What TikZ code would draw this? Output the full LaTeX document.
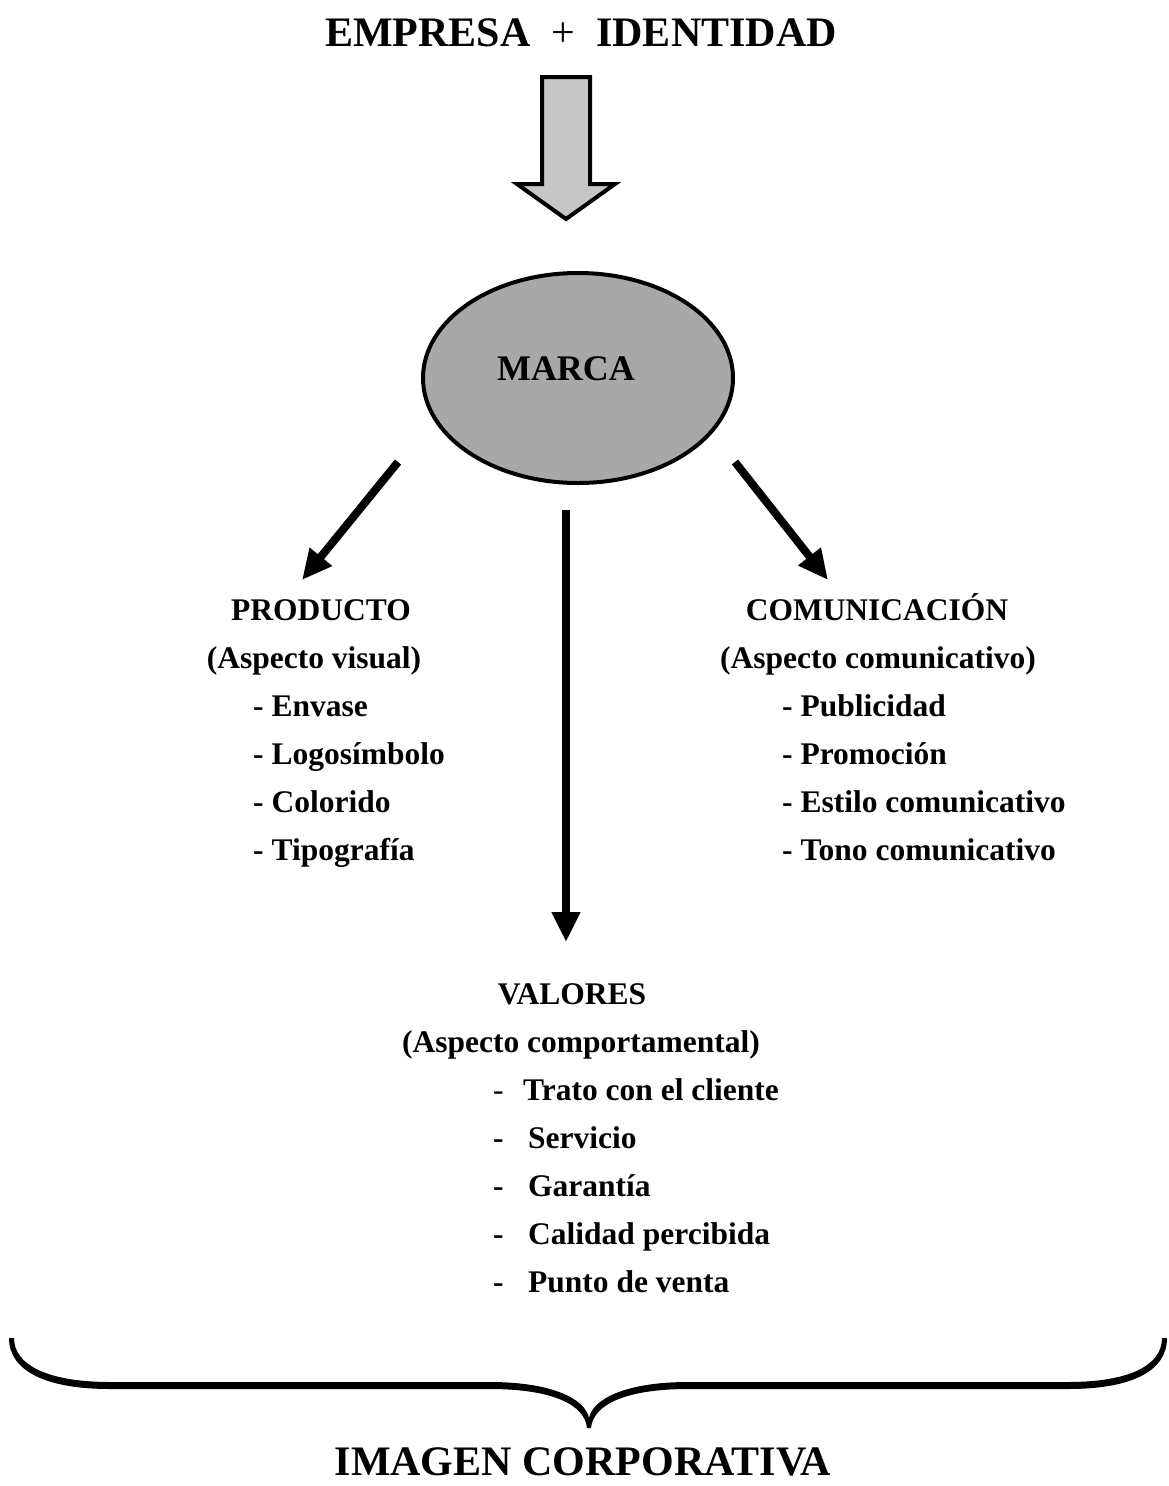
\documentclass[tikz,border=0pt]{standalone}
\usepackage{fontspec}
\setmainfont{Liberation Serif}
\usetikzlibrary{arrows.meta,shapes.geometric}

\begin{document}
\begin{tikzpicture}[x=1pt,y=-1pt,
  lbl/.style={inner sep=0pt, anchor=base, font=\fontsize{31.5}{38}\selectfont\bfseries},
  item/.style={lbl, anchor=base west},
  big/.style={inner sep=0pt, anchor=base, font=\fontsize{42}{50}\selectfont\bfseries},
  conn/.style={line width=8pt, -{Triangle[length=30pt,width=27pt]}},
  outline/.style={draw=black, line width=4pt}]
\useasboundingbox (0,0) rectangle (1168,1486);

% heading
\node[big] (empresa) at (581,46) {EMPRESA\ \ {\mdseries+}\ \ IDENTIDAD};

% block arrow towards the brand
\draw[outline, fill=gray!45, line join=miter]
  (542,77) -- (590,77) -- (590,184) -- (615,184) -- (566,219)
  -- (517,184) -- (542,184) -- cycle;

% brand ellipse
\node[outline, ellipse, fill=gray!68, minimum width=310pt, minimum height=210pt,
      inner sep=0pt] (marca) at (578,378) {};
\node[inner sep=0pt, anchor=base, font=\fontsize{36}{42}\selectfont\bfseries]
  (marcatxt) at (566,380) {MARCA};

% connectors
\coordinate (lstart) at (398,462);
\coordinate (lend) at (302,580);
\coordinate (cstart) at (566,510);
\coordinate (cend) at (566,942);
\coordinate (rstart) at (735,462);
\coordinate (rend) at (828,580);
\draw[conn] (lstart) -- (lend);
\draw[conn] (cstart) -- (cend);
\draw[conn] (rstart) -- (rend);

% product
\node[lbl] (prod) at (321,620) {PRODUCTO};
\node[lbl] (prodsub) at (314,668) {(Aspecto visual)};
\node[item] (p1) at (253,716) {- Envase};
\node[item] (p2) at (253,764) {- Logosímbolo};
\node[item] (p3) at (253,812) {- Colorido};
\node[item] (p4) at (253,860) {- Tipografía};

% communication
\node[lbl] (com) at (877,620) {COMUNICACIÓN};
\node[lbl] (comsub) at (878,668) {(Aspecto comunicativo)};
\node[item] (c1) at (782,716) {- Publicidad};
\node[item] (c2) at (782,764) {- Promoción};
\node[item] (c3) at (782,812) {- Estilo comunicativo};
\node[item] (c4) at (782,860) {- Tono comunicativo};

% values
\node[lbl] (val) at (572,1004) {VALORES};
\node[lbl] (valsub) at (581,1052) {(Aspecto comportamental)};
\node[item] (d1) at (493,1100) {{\mdseries -}};
\node[item] (v1) at (523,1100) {Trato con el cliente};
\node[item] (d2) at (493,1148) {-};
\node[item] (v2) at (528,1148) {Servicio};
\node[item] (d3) at (493,1196) {-};
\node[item] (v3) at (528,1196) {Garantía};
\node[item] (d4) at (493,1244) {-};
\node[item] (v4) at (528,1244) {Calidad percibida};
\node[item] (d5) at (493,1292) {-};
\node[item] (v5) at (528,1292) {Punto de venta};

% closing brace
\fill (9,1338) -- (14,1338)
  .. controls (14,1366) and (50,1382) .. (110,1382) -- (490,1382)
  .. controls (550,1382) and (585,1398) .. (589,1418)
  .. controls (593,1398) and (628,1382) .. (688,1382) -- (1068,1382)
  .. controls (1128,1382) and (1162,1366) .. (1162,1338) -- (1167,1338)
  .. controls (1167,1372) and (1130,1389) .. (1068,1389) -- (688,1389)
  .. controls (625,1389) and (593,1405) .. (591,1428) -- (587,1428)
  .. controls (585,1405) and (553,1389) .. (490,1389) -- (110,1389)
  .. controls (48,1389) and (9,1372) .. (9,1338) -- cycle;

\node[big] (imagen) at (583,1475) {IMAGEN CORPORATIVA};
\end{tikzpicture}
\end{document}
